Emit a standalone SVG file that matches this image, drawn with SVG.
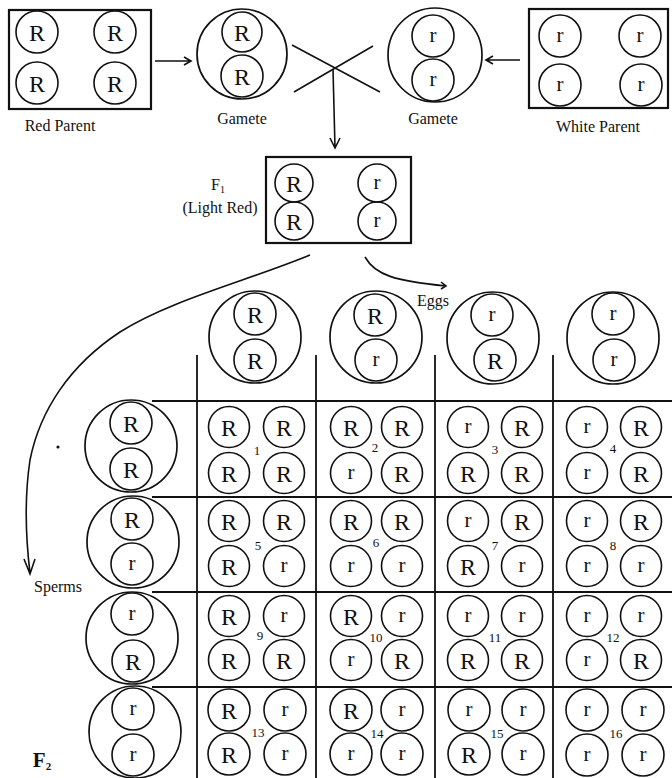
<svg xmlns="http://www.w3.org/2000/svg" width="672" height="778" viewBox="0 0 672 778">
<style>
.c{fill:none;stroke:#111;stroke-width:1.6}
.o{fill:none;stroke:#111;stroke-width:1.7}
.b{fill:none;stroke:#111;stroke-width:2.2}
.ln{fill:none;stroke:#111;stroke-width:1.6}
.g{fill:none;stroke:#111;stroke-width:1.8}
text{font-family:"Liberation Serif","DejaVu Serif",serif;fill:#111;text-anchor:middle}
.R{font-size:24px}
.r{font-size:21px}
.l{font-size:16px}
.n{font-size:13px}
</style>
<rect width="672" height="778" fill="#fff"/>

<g id="red-parent">
<rect class="b" x="9" y="10" width="142" height="99"/>
<circle class="c" cx="37" cy="32" r="21"/><text class="R" x="37" y="40.5">R</text>
<circle class="c" cx="115" cy="32" r="21"/><text class="R" x="115" y="40.5">R</text>
<circle class="c" cx="37" cy="83" r="21"/><text class="R" x="37" y="91.5">R</text>
<circle class="c" cx="115" cy="83" r="21"/><text class="R" x="115" y="91.5">R</text>
<text class="l" x="60" y="131">Red Parent</text>
</g>

<g id="gamete-red">
<circle class="o" cx="242" cy="54" r="45"/>
<circle class="c" cx="242" cy="32" r="20"/><text class="R" x="242" y="40.5">R</text>
<circle class="c" cx="242" cy="76" r="21"/><text class="R" x="242" y="84.5">R</text>
<text class="l" x="242" y="124">Gamete</text>
</g>

<g id="gamete-white">
<circle class="o" cx="435" cy="55" r="47"/>
<circle class="c" cx="433" cy="36" r="21"/><text class="r" x="433" y="41.5">r</text>
<circle class="c" cx="433" cy="80" r="21"/><text class="r" x="433" y="85.5">r</text>
<text class="l" x="433" y="124">Gamete</text>
</g>

<g id="white-parent">
<rect class="b" x="529" y="9" width="139" height="99"/>
<circle class="c" cx="560" cy="36" r="21"/><text class="r" x="560" y="41.5">r</text>
<circle class="c" cx="640" cy="36" r="21"/><text class="r" x="640" y="41.5">r</text>
<circle class="c" cx="560" cy="85" r="21"/><text class="r" x="560" y="90.5">r</text>
<circle class="c" cx="641" cy="85" r="21"/><text class="r" x="641" y="90.5">r</text>
<text class="l" x="598" y="132">White Parent</text>
</g>

<g id="f1">
<rect class="b" x="266" y="157" width="145" height="86"/>
<circle class="c" cx="294" cy="183" r="19"/><text class="R" x="294" y="191.5">R</text>
<circle class="c" cx="294" cy="221" r="19"/><text class="R" x="294" y="229.5">R</text>
<circle class="c" cx="377" cy="183" r="19"/><text class="r" x="377" y="188.5">r</text>
<circle class="c" cx="377" cy="221" r="19"/><text class="r" x="377" y="226.5">r</text>
<text class="l" x="218" y="190">F<tspan font-size="10" dy="3">1</tspan></text>
<text class="l" x="220" y="213">(Light Red)</text>
</g>

<g id="connectors">
<path class="ln" d="M155,61 H191 M184,57 L191,61 L184,65"/>
<path class="ln" d="M520,60 H486 M493,56 L486,60 L493,64"/>
<path class="ln" d="M292,45 L380,92 M294,92 L373,46"/>
<path class="ln" d="M333,69 L335,148 M330,138 L335,148 L340,138"/>
<path class="ln" d="M365,257 C375,275 395,281 446,286 M441,282 L446,286 L441,289"/>
<path class="ln" d="M310,255 C250,280 170,300 120,332 C70,365 40,410 30,460 C24,500 26,540 30,573 M24,559 L30,574 L35,559"/>
</g>

<g id="labels">
<text class="l" x="433" y="306" font-size="15">Eggs</text>
<text class="l" x="58" y="592" font-size="15">Sperms</text>
<text x="42" y="767" font-size="21" font-weight="bold">F<tspan font-size="11" dy="3">2</tspan></text>
<circle cx="58" cy="447" r="1.6" fill="#111"/>
</g>

<g id="grid">
<path class="g" d="M197,355 V778 M316,355 V778 M435,355 V778 M553,355 V778"/>
<path class="g" d="M152,401 H672 M152,497 H672 M152,592 H672 M152,687 H672"/>
</g>

<g id="egg-R-R">
<circle class="o" cx="255" cy="337" r="46"/>
<circle class="c" cx="255" cy="314" r="21"/><text class="R" x="255" y="322.5">R</text>
<circle class="c" cx="255" cy="360" r="21"/><text class="R" x="255" y="368.5">R</text>
</g>
<g id="egg-R-r">
<circle class="o" cx="376" cy="337" r="46"/>
<circle class="c" cx="375" cy="315" r="21"/><text class="R" x="375" y="323.5">R</text>
<circle class="c" cx="376" cy="360" r="21"/><text class="r" x="376" y="365.5">r</text>
</g>
<g id="egg-r-R">
<circle class="o" cx="493" cy="338" r="46"/>
<circle class="c" cx="492" cy="315" r="21"/><text class="r" x="492" y="320.5">r</text>
<circle class="c" cx="495" cy="360" r="21"/><text class="R" x="495" y="368.5">R</text>
</g>
<g id="egg-r-r">
<circle class="o" cx="613" cy="338" r="46"/>
<circle class="c" cx="613" cy="314" r="21"/><text class="r" x="613" y="319.5">r</text>
<circle class="c" cx="614" cy="360" r="21"/><text class="r" x="614" y="365.5">r</text>
</g>

<g id="sperm-R-R">
<circle class="o" cx="131" cy="446" r="46"/>
<circle class="c" cx="131" cy="423" r="21"/><text class="R" x="131" y="431.5">R</text>
<circle class="c" cx="131" cy="469" r="21"/><text class="R" x="131" y="477.5">R</text>
</g>
<g id="sperm-R-r">
<circle class="o" cx="133" cy="542" r="46"/>
<circle class="c" cx="132" cy="519" r="21"/><text class="R" x="132" y="527.5">R</text>
<circle class="c" cx="132" cy="564" r="21"/><text class="r" x="132" y="569.5">r</text>
</g>
<g id="sperm-r-R">
<circle class="o" cx="132" cy="638" r="46"/>
<circle class="c" cx="132" cy="614" r="21"/><text class="r" x="132" y="619.5">r</text>
<circle class="c" cx="133" cy="661" r="21"/><text class="R" x="133" y="669.5">R</text>
</g>
<g id="sperm-r-r">
<circle class="o" cx="135" cy="732" r="46"/>
<circle class="c" cx="133" cy="709" r="21"/><text class="r" x="133" y="714.5">r</text>
<circle class="c" cx="133" cy="755" r="21"/><text class="r" x="133" y="760.5">r</text>
</g>

<g id="cell-1">
<circle class="c" cx="229" cy="427" r="20.5"/><text class="R" x="229" y="435.5">R</text>
<circle class="c" cx="284" cy="427" r="20.5"/><text class="R" x="284" y="435.5">R</text>
<circle class="c" cx="229" cy="473" r="20.5"/><text class="R" x="229" y="481.5">R</text>
<circle class="c" cx="284" cy="473" r="20.5"/><text class="R" x="284" y="481.5">R</text>
<text class="n" x="257" y="455">1</text>
</g>
<g id="cell-2">
<circle class="c" cx="351" cy="427" r="20.5"/><text class="R" x="351" y="435.5">R</text>
<circle class="c" cx="402" cy="427" r="20.5"/><text class="R" x="402" y="435.5">R</text>
<circle class="c" cx="351" cy="473" r="20.5"/><text class="r" x="351" y="478.5">r</text>
<circle class="c" cx="402" cy="473" r="20.5"/><text class="R" x="402" y="481.5">R</text>
<text class="n" x="375" y="452">2</text>
</g>
<g id="cell-3">
<circle class="c" cx="468" cy="427" r="20.5"/><text class="r" x="468" y="432.5">r</text>
<circle class="c" cx="522" cy="427" r="20.5"/><text class="R" x="522" y="435.5">R</text>
<circle class="c" cx="468" cy="473" r="20.5"/><text class="R" x="468" y="481.5">R</text>
<circle class="c" cx="522" cy="473" r="20.5"/><text class="R" x="522" y="481.5">R</text>
<text class="n" x="495" y="454">3</text>
</g>
<g id="cell-4">
<circle class="c" cx="587" cy="427" r="20.5"/><text class="r" x="587" y="432.5">r</text>
<circle class="c" cx="641" cy="427" r="20.5"/><text class="R" x="641" y="435.5">R</text>
<circle class="c" cx="587" cy="473" r="20.5"/><text class="r" x="587" y="478.5">r</text>
<circle class="c" cx="641" cy="473" r="20.5"/><text class="R" x="641" y="481.5">R</text>
<text class="n" x="613" y="453">4</text>
</g>

<g id="cell-5">
<circle class="c" cx="229" cy="521" r="20.5"/><text class="R" x="229" y="529.5">R</text>
<circle class="c" cx="284" cy="521" r="20.5"/><text class="R" x="284" y="529.5">R</text>
<circle class="c" cx="229" cy="566" r="20.5"/><text class="R" x="229" y="574.5">R</text>
<circle class="c" cx="284" cy="566" r="20.5"/><text class="r" x="284" y="571.5">r</text>
<text class="n" x="258" y="550">5</text>
</g>
<g id="cell-6">
<circle class="c" cx="351" cy="521" r="20.5"/><text class="R" x="351" y="529.5">R</text>
<circle class="c" cx="402" cy="521" r="20.5"/><text class="R" x="402" y="529.5">R</text>
<circle class="c" cx="351" cy="566" r="20.5"/><text class="r" x="351" y="571.5">r</text>
<circle class="c" cx="402" cy="566" r="20.5"/><text class="r" x="402" y="571.5">r</text>
<text class="n" x="376" y="547">6</text>
</g>
<g id="cell-7">
<circle class="c" cx="468" cy="521" r="20.5"/><text class="r" x="468" y="526.5">r</text>
<circle class="c" cx="522" cy="521" r="20.5"/><text class="R" x="522" y="529.5">R</text>
<circle class="c" cx="468" cy="566" r="20.5"/><text class="R" x="468" y="574.5">R</text>
<circle class="c" cx="522" cy="566" r="20.5"/><text class="r" x="522" y="571.5">r</text>
<text class="n" x="495" y="550">7</text>
</g>
<g id="cell-8">
<circle class="c" cx="587" cy="521" r="20.5"/><text class="r" x="587" y="526.5">r</text>
<circle class="c" cx="641" cy="521" r="20.5"/><text class="R" x="641" y="529.5">R</text>
<circle class="c" cx="587" cy="566" r="20.5"/><text class="r" x="587" y="571.5">r</text>
<circle class="c" cx="641" cy="566" r="20.5"/><text class="r" x="641" y="571.5">r</text>
<text class="n" x="613" y="550">8</text>
</g>

<g id="cell-9">
<circle class="c" cx="229" cy="616" r="20.5"/><text class="R" x="229" y="624.5">R</text>
<circle class="c" cx="284" cy="616" r="20.5"/><text class="r" x="284" y="621.5">r</text>
<circle class="c" cx="229" cy="660" r="20.5"/><text class="R" x="229" y="668.5">R</text>
<circle class="c" cx="284" cy="660" r="20.5"/><text class="R" x="284" y="668.5">R</text>
<text class="n" x="260" y="640">9</text>
</g>
<g id="cell-10">
<circle class="c" cx="351" cy="616" r="20.5"/><text class="R" x="351" y="624.5">R</text>
<circle class="c" cx="402" cy="616" r="20.5"/><text class="r" x="402" y="621.5">r</text>
<circle class="c" cx="351" cy="660" r="20.5"/><text class="r" x="351" y="665.5">r</text>
<circle class="c" cx="402" cy="660" r="20.5"/><text class="R" x="402" y="668.5">R</text>
<text class="n" x="376" y="642">10</text>
</g>
<g id="cell-11">
<circle class="c" cx="468" cy="616" r="20.5"/><text class="r" x="468" y="621.5">r</text>
<circle class="c" cx="522" cy="616" r="20.5"/><text class="r" x="522" y="621.5">r</text>
<circle class="c" cx="468" cy="660" r="20.5"/><text class="R" x="468" y="668.5">R</text>
<circle class="c" cx="522" cy="660" r="20.5"/><text class="R" x="522" y="668.5">R</text>
<text class="n" x="495" y="642">11</text>
</g>
<g id="cell-12">
<circle class="c" cx="587" cy="616" r="20.5"/><text class="r" x="587" y="621.5">r</text>
<circle class="c" cx="641" cy="616" r="20.5"/><text class="r" x="641" y="621.5">r</text>
<circle class="c" cx="587" cy="660" r="20.5"/><text class="r" x="587" y="665.5">r</text>
<circle class="c" cx="641" cy="660" r="20.5"/><text class="R" x="641" y="668.5">R</text>
<text class="n" x="613" y="642">12</text>
</g>

<g id="cell-13">
<circle class="c" cx="229" cy="710" r="21"/><text class="R" x="229" y="718.5">R</text>
<circle class="c" cx="285" cy="710" r="21"/><text class="r" x="285" y="715.5">r</text>
<circle class="c" cx="229" cy="754" r="21"/><text class="R" x="229" y="762.5">R</text>
<circle class="c" cx="285" cy="754" r="21"/><text class="r" x="285" y="759.5">r</text>
<text class="n" x="258" y="737">13</text>
</g>
<g id="cell-14">
<circle class="c" cx="351" cy="710" r="21"/><text class="R" x="351" y="718.5">R</text>
<circle class="c" cx="402" cy="710" r="21"/><text class="r" x="402" y="715.5">r</text>
<circle class="c" cx="351" cy="754" r="21"/><text class="r" x="351" y="759.5">r</text>
<circle class="c" cx="402" cy="754" r="21"/><text class="r" x="402" y="759.5">r</text>
<text class="n" x="377" y="738">14</text>
</g>
<g id="cell-15">
<circle class="c" cx="469" cy="710" r="21"/><text class="r" x="469" y="715.5">r</text>
<circle class="c" cx="523" cy="710" r="21"/><text class="r" x="523" y="715.5">r</text>
<circle class="c" cx="469" cy="754" r="21"/><text class="R" x="469" y="762.5">R</text>
<circle class="c" cx="523" cy="754" r="21"/><text class="r" x="523" y="759.5">r</text>
<text class="n" x="497" y="738">15</text>
</g>
<g id="cell-16">
<circle class="c" cx="587" cy="710" r="21"/><text class="r" x="587" y="715.5">r</text>
<circle class="c" cx="643" cy="710" r="21"/><text class="r" x="643" y="715.5">r</text>
<circle class="c" cx="587" cy="755" r="21"/><text class="r" x="587" y="760.5">r</text>
<circle class="c" cx="643" cy="755" r="21"/><text class="r" x="643" y="760.5">r</text>
<text class="n" x="616" y="738">16</text>
</g>
</svg>
